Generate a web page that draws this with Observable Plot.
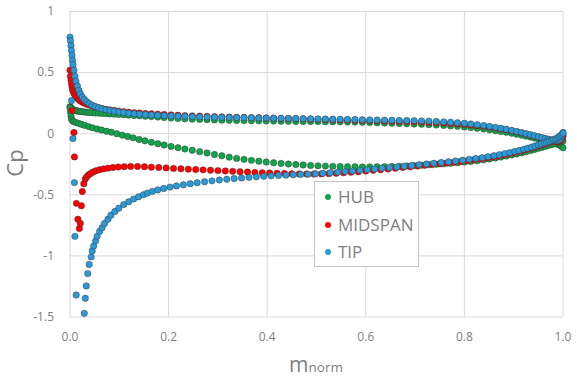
<!DOCTYPE html>
<html>
<head>
<meta charset="utf-8">
<script src="https://cdn.jsdelivr.net/npm/d3@7"></script>
<script src="https://cdn.jsdelivr.net/npm/@observablehq/plot@0.6"></script>
<style>
  html, body { margin: 0; padding: 0; background: #fff; }
  #chart { position: relative; width: 577px; height: 378px; font-family: "Open Sans", sans-serif; }
  #legend { position: absolute; left: 314px; top: 181px; width: 105px; height: 86px; border: 1px solid #c4c4c4; background: #fff; box-sizing: border-box; }
  .li { position: absolute; left: 0; height: 24px; line-height: 24px; font-size: 17px; color: #7f7f7f; white-space: nowrap; }
  .li span.sw { position: absolute; left: 10px; top: 9px; width: 6px; height: 6px; border-radius: 50%; }
  .li span.tx { position: absolute; left: 23px; top: 0; }
</style>
</head>
<body>
<div id="chart"><div id="legend"></div></div>
<script>
// ---------- data ----------
const seriesNames = ["HUB", "MIDSPAN", "TIP"];
const seriesColors = ["#13a34b", "#ff0000", "#2b9ad6"];
const xTicks = [0, 0.2, 0.4, 0.6, 0.8, 1.0];
const yTicks = [-1.5, -1, -0.5, 0, 0.5, 1];

// pressure side (upper branch), shared m grid
const mPressure = [0,0.001,0.002,0.003,0.004,0.005,0.006,0.008,0.010,0.012,0.015,0.018,0.021,0.025,0.029,0.034,0.039,0.045,0.051,0.058,0.065,0.073,0.081,0.090,0.099,0.109,0.119,0.130,0.141,0.153,0.165,0.178,0.191,0.205,0.219,0.233,0.248,0.263,0.278,0.293,0.308,0.323,0.338,0.353,0.368,0.383,0.398,0.413,0.428,0.443,0.458,0.473,0.488,0.503,0.518,0.533,0.548,0.563,0.578,0.593,0.608,0.623,0.638,0.653,0.668,0.683,0.698,0.713,0.728,0.743,0.758,0.772,0.786,0.800,0.813,0.826,0.839,0.851,0.863,0.874,0.885,0.896,0.906,0.916,0.925,0.934,0.942,0.950,0.957,0.964,0.970,0.976,0.981,0.986,0.990,0.994,0.997,1.0];
const hubPressure = [0.22,0.215,0.21,0.205,0.2,0.197,0.195,0.192,0.19,0.188,0.186,0.184,0.182,0.18,0.178,0.176,0.174,0.172,0.17,0.168,0.166,0.164,0.162,0.16,0.158,0.155,0.152,0.149,0.146,0.143,0.14,0.136,0.132,0.128,0.125,0.122,0.119,0.117,0.115,0.113,0.111,0.11,0.108,0.107,0.106,0.105,0.104,0.103,0.102,0.101,0.1,0.1,0.099,0.099,0.098,0.098,0.097,0.096,0.095,0.093,0.091,0.089,0.087,0.085,0.083,0.081,0.079,0.077,0.074,0.071,0.068,0.064,0.06,0.055,0.05,0.044,0.038,0.032,0.025,0.018,0.011,0.004,-0.004,-0.012,-0.02,-0.028,-0.036,-0.044,-0.051,-0.058,-0.064,-0.07,-0.076,-0.082,-0.088,-0.095,-0.105,-0.115];
const midPressure = [0.52,0.47,0.44,0.41,0.385,0.365,0.35,0.33,0.315,0.302,0.29,0.278,0.268,0.258,0.25,0.242,0.234,0.226,0.219,0.212,0.206,0.2,0.195,0.19,0.185,0.18,0.176,0.172,0.169,0.166,0.163,0.16,0.157,0.154,0.151,0.148,0.146,0.144,0.142,0.14,0.138,0.136,0.134,0.133,0.131,0.13,0.128,0.127,0.125,0.124,0.122,0.121,0.119,0.118,0.116,0.115,0.113,0.112,0.11,0.108,0.107,0.105,0.103,0.102,0.1,0.099,0.097,0.095,0.093,0.09,0.087,0.084,0.08,0.076,0.071,0.066,0.06,0.054,0.047,0.04,0.032,0.024,0.015,0.006,-0.003,-0.012,-0.02,-0.028,-0.035,-0.042,-0.048,-0.054,-0.059,-0.063,-0.066,-0.06,-0.045,-0.02];
const tipPressure = [0.79,0.76,0.72,0.68,0.64,0.6,0.565,0.52,0.47,0.43,0.39,0.355,0.325,0.3,0.28,0.262,0.247,0.233,0.222,0.212,0.203,0.196,0.19,0.184,0.178,0.173,0.168,0.164,0.16,0.157,0.154,0.151,0.148,0.146,0.144,0.142,0.14,0.138,0.136,0.135,0.134,0.133,0.132,0.131,0.13,0.129,0.128,0.127,0.126,0.125,0.124,0.123,0.122,0.121,0.12,0.119,0.118,0.117,0.116,0.114,0.113,0.112,0.111,0.11,0.109,0.108,0.107,0.105,0.103,0.1,0.097,0.094,0.09,0.085,0.08,0.074,0.067,0.06,0.052,0.044,0.036,0.027,0.018,0.009,0,-0.009,-0.017,-0.025,-0.032,-0.039,-0.045,-0.051,-0.055,-0.057,-0.055,-0.045,-0.025,0.01];

// suction side (lower branch)
const mHubSuction = [0,0.001,0.002,0.003,0.005,0.008,0.012,0.017,0.023,0.030,0.038,0.046,0.055,0.064,0.074,0.084,0.095,0.106,0.117,0.128,0.140,0.152,0.165,0.178,0.191,0.205,0.219,0.233,0.248,0.263,0.278,0.293,0.308,0.323,0.338,0.353,0.368,0.383,0.398,0.413,0.428,0.443,0.458,0.473,0.488,0.503,0.518,0.533,0.548,0.563,0.578,0.593,0.608,0.623,0.638,0.653,0.668,0.683,0.698,0.713,0.728,0.743,0.758,0.772,0.786,0.800,0.813,0.826,0.839,0.851,0.863,0.874,0.885,0.896,0.906,0.916,0.925,0.934,0.942,0.950,0.957,0.964,0.970,0.976,0.981,0.986,0.990,0.994,0.997,1.0];
const hubSuction = [0.21,0.175,0.145,0.12,0.105,0.098,0.092,0.085,0.077,0.068,0.058,0.048,0.038,0.03,0.02,0.012,0,-0.012,-0.023,-0.034,-0.047,-0.058,-0.07,-0.082,-0.093,-0.104,-0.114,-0.125,-0.136,-0.147,-0.158,-0.17,-0.181,-0.192,-0.202,-0.21,-0.218,-0.225,-0.232,-0.238,-0.243,-0.248,-0.252,-0.256,-0.26,-0.263,-0.265,-0.267,-0.269,-0.27,-0.271,-0.272,-0.272,-0.271,-0.27,-0.269,-0.267,-0.264,-0.261,-0.258,-0.254,-0.25,-0.246,-0.242,-0.238,-0.232,-0.227,-0.221,-0.214,-0.207,-0.199,-0.191,-0.183,-0.174,-0.166,-0.157,-0.148,-0.138,-0.129,-0.12,-0.112,-0.104,-0.097,-0.09,-0.084,-0.078,-0.072,-0.066,-0.062,-0.058];

const mMidSuction = [0.004,0.008,0.009,0.013,0.016,0.019,0.021,0.023,0.025,0.028,0.031,0.034,0.038,0.042,0.047,0.053,0.060,0.068,0.077,0.087,0.098,0.110,0.123,0.137,0.151,0.165,0.180,0.195,0.210,0.225,0.240,0.255,0.270,0.285,0.300,0.315,0.330,0.345,0.360,0.375,0.390,0.405,0.420,0.435,0.450,0.465,0.480,0.495,0.510,0.525,0.540,0.555,0.570,0.585,0.600,0.615,0.630,0.645,0.660,0.675,0.690,0.705,0.720,0.735,0.750,0.764,0.778,0.792,0.806,0.819,0.832,0.844,0.856,0.867,0.878,0.888,0.898,0.907,0.916,0.924,0.932,0.940,0.947,0.954,0.960,0.966,0.971,0.976,0.980,0.984,0.988,0.991,0.994,0.997,1.0];
const midSuction = [0.19,0.01,-0.19,-0.57,-0.7,-0.776,-0.735,-0.59,-0.473,-0.41,-0.37,-0.352,-0.336,-0.325,-0.313,-0.303,-0.295,-0.288,-0.282,-0.277,-0.273,-0.27,-0.268,-0.268,-0.27,-0.274,-0.277,-0.28,-0.284,-0.287,-0.29,-0.293,-0.296,-0.299,-0.302,-0.305,-0.308,-0.311,-0.314,-0.317,-0.32,-0.322,-0.324,-0.326,-0.328,-0.329,-0.33,-0.33,-0.329,-0.327,-0.324,-0.32,-0.316,-0.311,-0.306,-0.3,-0.295,-0.289,-0.283,-0.277,-0.271,-0.265,-0.259,-0.253,-0.247,-0.241,-0.235,-0.229,-0.222,-0.215,-0.208,-0.2,-0.192,-0.184,-0.175,-0.166,-0.158,-0.149,-0.14,-0.131,-0.122,-0.113,-0.104,-0.095,-0.087,-0.079,-0.072,-0.064,-0.057,-0.05,-0.042,-0.035,-0.027,-0.018,-0.01];

const mTipSuction = [0.003,0.006,0.009,0.010,0.0125,0.029,0.031,0.033,0.036,0.039,0.043,0.045,0.048,0.052,0.055,0.060,0.065,0.070,0.077,0.083,0.091,0.099,0.109,0.119,0.129,0.139,0.149,0.157,0.167,0.178,0.190,0.203,0.216,0.230,0.244,0.258,0.273,0.288,0.303,0.318,0.333,0.348,0.363,0.378,0.393,0.408,0.423,0.438,0.453,0.468,0.483,0.498,0.513,0.528,0.543,0.558,0.573,0.588,0.603,0.618,0.633,0.648,0.663,0.678,0.693,0.708,0.723,0.738,0.753,0.768,0.782,0.796,0.810,0.823,0.836,0.848,0.860,0.871,0.882,0.892,0.902,0.911,0.920,0.928,0.936,0.943,0.950,0.956,0.962,0.967,0.972,0.977,0.981,0.985,0.989,0.992,0.995,0.998,1.0];
const tipSuction = [0.27,-0.04,-0.4,-0.84,-1.32,-1.47,-1.347,-1.246,-1.145,-1.07,-1.008,-0.96,-0.92,-0.877,-0.84,-0.8,-0.77,-0.735,-0.7,-0.667,-0.637,-0.61,-0.58,-0.557,-0.535,-0.516,-0.5,-0.486,-0.472,-0.46,-0.448,-0.437,-0.427,-0.418,-0.409,-0.401,-0.393,-0.386,-0.379,-0.373,-0.367,-0.362,-0.357,-0.353,-0.349,-0.345,-0.342,-0.339,-0.336,-0.333,-0.331,-0.328,-0.324,-0.32,-0.315,-0.31,-0.305,-0.3,-0.294,-0.289,-0.283,-0.278,-0.272,-0.266,-0.26,-0.254,-0.248,-0.242,-0.236,-0.23,-0.224,-0.217,-0.21,-0.203,-0.196,-0.188,-0.18,-0.172,-0.163,-0.155,-0.146,-0.137,-0.128,-0.119,-0.11,-0.101,-0.092,-0.084,-0.076,-0.069,-0.062,-0.055,-0.048,-0.041,-0.033,-0.025,-0.015,-0.005,0.005];

// ---------- build tables ----------
function pts(ms, cps) { return ms.map((m, i) => ({m, cp: cps[i]})); }
const series = [
  pts(mPressure, hubPressure).concat(pts(mHubSuction, hubSuction)),
  pts(mPressure, midPressure).concat(pts(mMidSuction, midSuction)),
  pts(mPressure, tipPressure).concat(pts(mTipSuction, tipSuction))
];

const gridColor = "#d9d9d9";
const textColor = "#7f7f7f";

const plot = Plot.plot({
  width: 577,
  height: 378,
  marginLeft: 69.5,
  marginRight: 14.5,
  marginTop: 11,
  marginBottom: 61.5,
  style: { fontFamily: "'Open Sans', sans-serif", fontSize: "12px", color: textColor, background: "#fff" },
  x: { domain: [0, 1] },
  y: { domain: [-1.5, 1] },
  marks: [
    Plot.gridX(xTicks, { stroke: gridColor, strokeOpacity: 1 }),
    Plot.gridY(yTicks, { stroke: gridColor, strokeOpacity: 1 }),
    Plot.axisX(xTicks, { tickSize: 0, tickPadding: 15, tickFormat: d3.format(".1f"), label: null, fill: textColor }),
    Plot.axisY(yTicks, { tickSize: 0, tickPadding: 16, tickFormat: d => String(d), label: null, fill: textColor }),
    ...series.map((data, i) => Plot.dot(data, {
      x: "m", y: "cp", r: 3.2, fill: seriesColors[i], stroke: "#333", strokeWidth: 0.6, strokeOpacity: 0.75
    }))
  ]
});

const chart = document.getElementById("chart");
chart.insertBefore(plot, chart.firstChild);

// axis titles
const svg = d3.select(plot);
const xt = svg.append("text")
  .attr("x", 316).attr("y", 372)
  .attr("text-anchor", "middle")
  .attr("fill", textColor)
  .style("font-family", "'Open Sans', sans-serif");
xt.append("tspan").attr("font-size", "21px").text("m");
xt.append("tspan").attr("font-size", "13.5px").text("norm");

svg.append("text")
  .attr("transform", "translate(23,163) rotate(-90)")
  .attr("text-anchor", "middle")
  .attr("fill", textColor)
  .attr("font-size", "22px")
  .style("font-family", "'Open Sans', sans-serif")
  .text("Cp");

// legend
const legend = document.getElementById("legend");
seriesNames.forEach((name, i) => {
  const row = document.createElement("div");
  row.className = "li";
  row.style.top = (3 + i * 27.5) + "px";
  row.innerHTML = `<span class="sw" style="background:${seriesColors[i]}"></span><span class="tx">${name}</span>`;
  legend.appendChild(row);
});
</script>
</body>
</html>
